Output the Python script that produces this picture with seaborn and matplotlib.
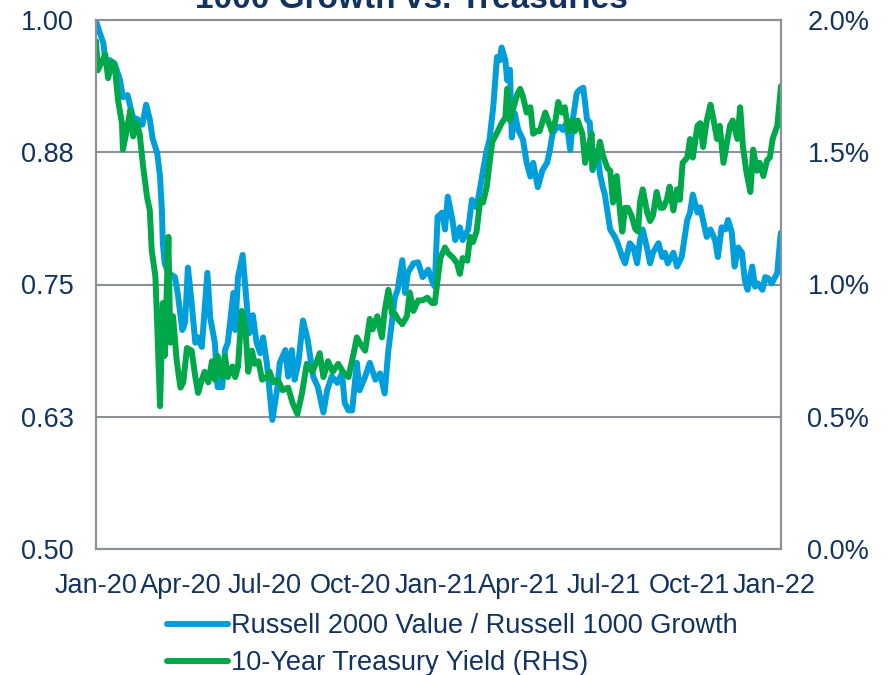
import pandas as pd
import matplotlib
matplotlib.use("Agg")
import matplotlib.pyplot as plt
import matplotlib.dates as mdates
from matplotlib.lines import Line2D
import seaborn as sns

# days counted from the first date
start_date = "2020-01-01"
end_date = "2022-01-08"

ratio_day = [0, 4, 8, 10, 15, 20, 26, 29, 34, 37,
             40, 45, 50, 54, 58, 61, 66, 69, 71, 72,
             74, 78, 85, 88, 93, 96, 99, 103, 107, 110,
             114, 120, 123, 128, 131, 136, 139, 142, 148, 150,
             153, 158, 163, 165, 169, 173, 177, 180, 184, 190,
             195, 198, 204, 207, 211, 214, 218, 223, 228, 234,
             239, 245, 249, 254, 260, 265, 268, 272, 276, 281,
             284, 290, 295, 301, 306, 311, 315, 319, 322, 325,
             330, 333, 336, 342, 347, 352, 358, 363, 365, 368,
             373, 376, 379, 384, 387, 392, 395, 401, 405, 410,
             414, 417, 421, 424, 428, 432, 435, 437, 441, 443,
             446, 448, 451, 455, 460, 464, 468, 471, 476, 481,
             486, 489, 492, 497, 500, 503, 507, 511, 514, 518,
             521, 525, 529, 532, 535, 540, 543, 546, 548, 554,
             559, 562, 567, 570, 575, 579, 583, 586, 589, 594,
             597, 600, 606, 610, 613, 616, 622, 626, 631, 637,
             640, 643, 648, 651, 654, 658, 662, 667, 670, 674,
             678, 681, 685, 688, 692, 696, 699, 702, 707, 710,
             713, 718, 721, 724, 728, 734, 737, 738]
ratio_val = [0.999, 0.988, 0.978, 0.962, 0.962, 0.959, 0.943, 0.927, 0.929, 0.918,
             0.908, 0.906, 0.901, 0.920, 0.906, 0.888, 0.874, 0.852, 0.820, 0.789,
             0.770, 0.761, 0.757, 0.742, 0.707, 0.714, 0.766, 0.733, 0.695, 0.700,
             0.691, 0.761, 0.719, 0.695, 0.653, 0.653, 0.688, 0.695, 0.742, 0.707,
             0.757, 0.778, 0.726, 0.704, 0.721, 0.695, 0.685, 0.700, 0.676, 0.622,
             0.650, 0.676, 0.688, 0.663, 0.688, 0.660, 0.676, 0.716, 0.698, 0.663,
             0.653, 0.629, 0.650, 0.663, 0.657, 0.666, 0.638, 0.631, 0.631, 0.676,
             0.650, 0.663, 0.676, 0.660, 0.666, 0.647, 0.688, 0.716, 0.738, 0.745,
             0.773, 0.742, 0.761, 0.770, 0.771, 0.757, 0.764, 0.751, 0.748, 0.814,
             0.818, 0.802, 0.833, 0.811, 0.792, 0.804, 0.792, 0.802, 0.830, 0.823,
             0.842, 0.858, 0.877, 0.887, 0.918, 0.965, 0.962, 0.974, 0.962, 0.943,
             0.953, 0.889, 0.912, 0.896, 0.887, 0.865, 0.852, 0.865, 0.842, 0.858,
             0.865, 0.877, 0.893, 0.899, 0.899, 0.896, 0.903, 0.877, 0.908, 0.931,
             0.934, 0.936, 0.906, 0.903, 0.858, 0.877, 0.854, 0.842, 0.836, 0.802,
             0.795, 0.789, 0.776, 0.770, 0.789, 0.785, 0.770, 0.792, 0.802, 0.783,
             0.770, 0.780, 0.789, 0.776, 0.780, 0.770, 0.780, 0.767, 0.776, 0.811,
             0.818, 0.835, 0.818, 0.823, 0.811, 0.795, 0.802, 0.792, 0.776, 0.804,
             0.802, 0.811, 0.799, 0.767, 0.785, 0.780, 0.754, 0.745, 0.767, 0.748,
             0.751, 0.745, 0.757, 0.756, 0.751, 0.761, 0.792, 0.799]

yield_day = [0, 2, 6, 10, 13, 17, 20, 24, 28, 29,
             33, 37, 40, 44, 47, 51, 55, 58, 60, 64,
             66, 69, 72, 74, 78, 80, 83, 87, 91, 94,
             98, 103, 107, 110, 114, 117, 121, 125, 128, 131,
             136, 139, 142, 147, 150, 153, 157, 161, 164, 168,
             171, 175, 179, 184, 187, 191, 196, 201, 207, 212,
             217, 222, 227, 233, 238, 241, 245, 250, 255, 261,
             266, 272, 277, 281, 284, 290, 295, 298, 303, 308,
             311, 315, 319, 322, 325, 330, 335, 338, 342, 347,
             352, 357, 362, 365, 371, 376, 379, 385, 389, 392,
             395, 400, 403, 406, 410, 414, 417, 421, 424, 427,
             430, 433, 437, 441, 443, 446, 449, 454, 457, 460,
             464, 468, 471, 475, 478, 484, 487, 491, 495, 498,
             502, 505, 509, 513, 516, 519, 524, 527, 530, 534,
             535, 540, 543, 546, 551, 554, 557, 561, 565, 567,
             570, 573, 577, 581, 584, 586, 589, 594, 597, 600,
             604, 608, 611, 615, 618, 622, 626, 629, 632, 637,
             640, 643, 648, 651, 654, 658, 662, 665, 669, 672,
             676, 680, 683, 686, 691, 694, 697, 701, 705, 708,
             712, 715, 719, 723, 726, 729, 734, 737, 738]
yield_val = [1.92, 1.81, 1.84, 1.87, 1.78, 1.84, 1.83, 1.69, 1.61, 1.51,
             1.58, 1.66, 1.56, 1.61, 1.57, 1.44, 1.33, 1.28, 1.13, 1.03,
             0.84, 0.54, 0.93, 0.73, 1.18, 0.78, 0.88, 0.71, 0.61, 0.63,
             0.76, 0.75, 0.65, 0.59, 0.64, 0.67, 0.63, 0.71, 0.64, 0.73,
             0.65, 0.73, 0.65, 0.69, 0.65, 0.69, 0.90, 0.83, 0.67, 0.75,
             0.70, 0.71, 0.64, 0.65, 0.67, 0.63, 0.64, 0.60, 0.61, 0.55,
             0.51, 0.59, 0.70, 0.67, 0.71, 0.74, 0.65, 0.71, 0.67, 0.70,
             0.67, 0.65, 0.73, 0.80, 0.78, 0.75, 0.87, 0.83, 0.88, 0.80,
             0.90, 0.98, 0.89, 0.89, 0.87, 0.85, 0.88, 0.97, 0.90, 0.94,
             0.94, 0.95, 0.93, 0.93, 1.10, 1.14, 1.12, 1.10, 1.08, 1.04,
             1.10, 1.09, 1.18, 1.16, 1.20, 1.32, 1.31, 1.37, 1.46, 1.54,
             1.56, 1.58, 1.61, 1.63, 1.74, 1.62, 1.66, 1.72, 1.74, 1.71,
             1.65, 1.67, 1.57, 1.58, 1.58, 1.65, 1.62, 1.58, 1.62, 1.69,
             1.65, 1.67, 1.58, 1.62, 1.58, 1.62, 1.57, 1.46, 1.51, 1.57,
             1.44, 1.48, 1.54, 1.49, 1.44, 1.43, 1.31, 1.41, 1.26, 1.20,
             1.29, 1.29, 1.26, 1.21, 1.20, 1.31, 1.36, 1.27, 1.24, 1.26,
             1.35, 1.29, 1.29, 1.32, 1.37, 1.28, 1.36, 1.32, 1.46, 1.48,
             1.55, 1.48, 1.60, 1.61, 1.52, 1.62, 1.68, 1.63, 1.55, 1.60,
             1.46, 1.54, 1.60, 1.62, 1.55, 1.67, 1.52, 1.42, 1.35, 1.51,
             1.43, 1.46, 1.41, 1.47, 1.48, 1.55, 1.60, 1.71, 1.75]

left_ticks = [0.5, 0.625, 0.75, 0.875, 1.0]
left_labels = ["0.50", "0.63", "0.75", "0.88", "1.00"]
right_ticks = [0.0, 0.5, 1.0, 1.5, 2.0]
right_labels = ["0.0%", "0.5%", "1.0%", "1.5%", "2.0%"]
series_names = ["Russell 2000 Value / Russell 1000 Growth",
                "10-Year Treasury Yield (RHS)"]
title = "1000 Growth vs. Treasuries"

BLUE = "#009EDB"
GREEN = "#00A84A"
NAVY = "#12325F"
GRAY = "#8C9198"

t0 = pd.Timestamp(start_date)
ratio_df = pd.DataFrame({"date": t0 + pd.to_timedelta(ratio_day, unit="D"), "ratio": ratio_val})
yield_df = pd.DataFrame({"date": t0 + pd.to_timedelta(yield_day, unit="D"), "yld": yield_val})

sns.set_style("white")
plt.rcParams["font.family"] = ["Liberation Sans", "DejaVu Sans"]
plt.rcParams["font.size"] = 19.5

fig = plt.figure(figsize=(8.88, 6.75), dpi=100)
ax = fig.add_axes([96 / 888, 1 - 549 / 675, 685 / 888, 529 / 675])
ax2 = ax.twinx()

sns.lineplot(data=ratio_df, x="date", y="ratio", ax=ax, color=BLUE, lw=4.3)
sns.lineplot(data=yield_df, x="date", y="yld", ax=ax2, color=GREEN, lw=4.3)

ax.set_xlim(pd.Timestamp(start_date), pd.Timestamp(end_date))
ax.set_ylim(0.5, 1.0)
ax2.set_ylim(0.0, 2.0)
ax.set_yticks(left_ticks)
ax.set_yticklabels(left_labels)
ax2.set_yticks(right_ticks)
ax2.set_yticklabels(right_labels)
ax.xaxis.set_major_locator(mdates.MonthLocator(bymonth=[1, 4, 7, 10]))
ax.xaxis.set_major_formatter(mdates.DateFormatter("%b-%y"))
for a in (ax, ax2):
    a.set_xlabel("")
    a.set_ylabel("")
    for s in a.spines.values():
        s.set_color(GRAY)
        s.set_linewidth(1.5)
ax.grid(axis="y", color=GRAY, lw=1.5)
ax.set_axisbelow(True)
ax.tick_params(axis="y", length=0, pad=16, labelcolor=NAVY)
ax2.tick_params(axis="y", length=0, pad=19, labelcolor=NAVY)
ax.tick_params(axis="x", length=6, width=1.5, color=GRAY, pad=11, labelcolor=NAVY)

fig.text(411 / 888, 1 - 8 / 675, title, ha="center", va="baseline",
         fontsize=24, fontweight="bold", color=NAVY)

handles = [Line2D([], [], color=BLUE, lw=4.3), Line2D([], [], color=GREEN, lw=4.3)]
fig.legend(handles, series_names, loc="upper left", bbox_to_anchor=(167 / 888, 1 - 613 / 675),
           frameon=False, handlelength=2.25, handletextpad=0.12, labelspacing=0.42,
           borderpad=0, borderaxespad=0, labelcolor=NAVY)

fig.savefig("out.png", dpi=100)
